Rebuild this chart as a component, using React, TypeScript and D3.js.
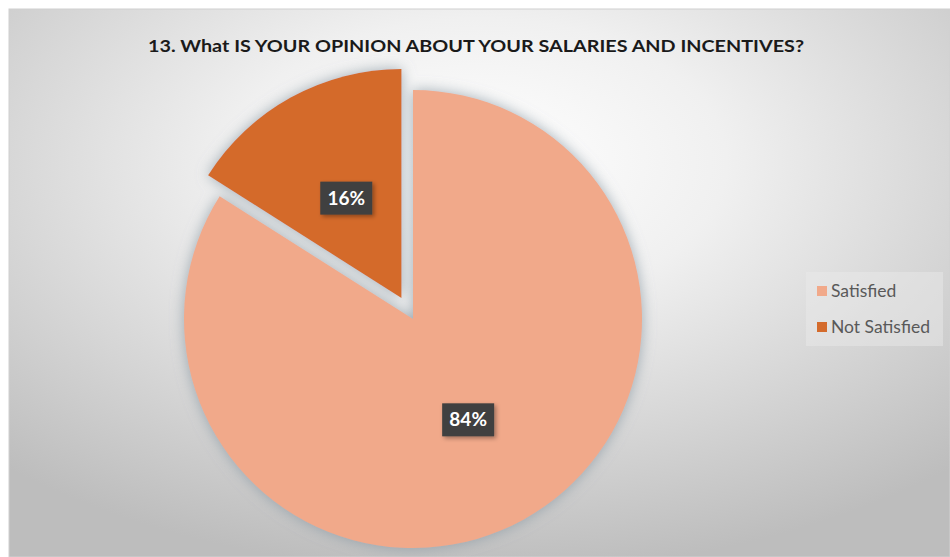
import React from 'react'
import * as d3 from 'd3'

const categories = ['Satisfied', 'Not Satisfied']
const values = [84, 16]
const colors = ['#F1A98A', '#D46B2C']
const title = '13. What IS YOUR OPINION ABOUT YOUR SALARIES AND INCENTIVES?'

export default function App() {
  const width = 950
  const height = 557
  const cx = 413
  const cy = 319
  const radius = 229
  const explode = [0, 24]

  const pie = d3.pie<number>().sort(null).value(d => d)
  const arcs = pie(values)
  const arc = d3.arc<d3.PieArcDatum<number>>().innerRadius(0).outerRadius(radius)
  const labelArc = d3.arc<d3.PieArcDatum<number>>().innerRadius(radius * 0.5).outerRadius(radius * 0.5)

  // exploded slice offset along its mid angle
  const shift = (a: d3.PieArcDatum<number>, i: number) => {
    const mid = (a.startAngle + a.endAngle) / 2
    return [Math.sin(mid) * explode[i], -Math.cos(mid) * explode[i]]
  }

  return (
    <svg width={width} height={height} style={{ position: 'absolute', left: 0, top: 0 }}>
      <defs>
        <radialGradient id="bg" cx="50%" cy="28%" r="75%">
          <stop offset="0%" stopColor="#ffffff" />
          <stop offset="35%" stopColor="#f0f0f0" />
          <stop offset="100%" stopColor="#bdbdbd" />
        </radialGradient>
        <filter id="shadow" x="-30%" y="-30%" width="160%" height="160%">
          <feGaussianBlur in="SourceAlpha" stdDeviation="7" result="b" />
          <feFlood floodColor="#8595a0" floodOpacity="0.75" />
          <feComposite operator="in" in2="b" />
          <feMerge>
            <feMergeNode />
            <feMergeNode in="SourceGraphic" />
          </feMerge>
        </filter>
        <filter id="lblshadow" x="-30%" y="-30%" width="160%" height="160%">
          <feDropShadow dx="2" dy="2" stdDeviation="2" floodColor="#000" floodOpacity="0.35" />
        </filter>
      </defs>
      <rect x={9} y={9} width={width - 9} height={height - 9} fill="url(#bg)" stroke="#d0d0d0" />
      <text x={476} y={52} textAnchor="middle" fontFamily="Lato" fontWeight="bold" fontSize={17.5}
        fill="#1a1a1a" textLength={656} lengthAdjust="spacingAndGlyphs">
        {title}
      </text>
      <g transform={`translate(${cx},${cy})`} filter="url(#shadow)">
        {arcs.map((a, i) => {
          const [dx, dy] = shift(a, i)
          return <path key={i} d={arc(a) ?? ''} fill={colors[i]} transform={`translate(${dx},${dy})`} />
        })}
      </g>
      <g transform={`translate(${cx},${cy})`}>
        {arcs.map((a, i) => {
          const [dx, dy] = shift(a, i)
          const [lx, ly] = labelArc.centroid(a)
          return (
            <g key={i} transform={`translate(${lx + dx},${ly + dy})`}>
              <rect x={-26} y={-16} width={52} height={33} fill="#404040" filter="url(#lblshadow)" />
              <text textAnchor="middle" dy="0.37em" fontFamily="Lato" fontWeight="bold" fontSize={19} fill="#ffffff">
                {values[i]}%
              </text>
            </g>
          )
        })}
      </g>
      <g transform="translate(806,272)">
        <rect width={137} height={74} fill="#ececec" opacity={0.45} />
        {categories.map((c, i) => (
          <g key={c} transform={`translate(11,${19 + i * 36})`}>
            <rect x={0} y={-5} width={10} height={10} fill={colors[i]} />
            <text x={14} dy="0.35em" fontFamily="Lato" fontSize={17.5} fill="#595959">
              {c}
            </text>
          </g>
        ))}
      </g>
    </svg>
  )
}
